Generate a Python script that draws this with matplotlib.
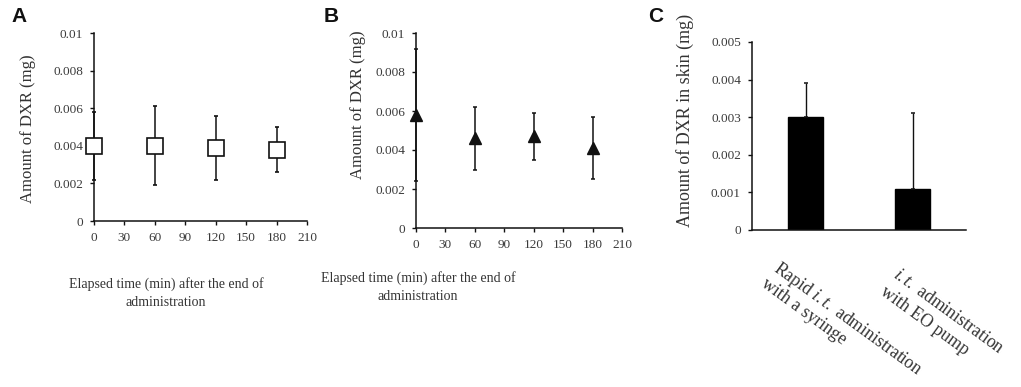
import matplotlib
matplotlib.use("Agg")
import matplotlib.pyplot as plt
import matplotlib.transforms as mtransforms
import numpy as np

W, H = 1021, 387

plt.rcParams['font.family'] = ['Liberation Serif', 'DejaVu Serif']
plt.rcParams['mathtext.fontset'] = 'custom'
plt.rcParams['mathtext.rm'] = 'Liberation Serif'
plt.rcParams['mathtext.it'] = 'Liberation Serif:italic'

# panel A: rapid i.t. administration (open squares)
time_a = [0, 60, 120, 180]
mean_a = [0.0040, 0.0040, 0.0039, 0.0038]
sd_a = [0.0018, 0.0021, 0.0017, 0.0012]

# panel B: EO pump (filled triangles)
time_b = [0, 60, 120, 180]
mean_b = [0.0058, 0.0046, 0.0047, 0.0041]
sd_b = [0.0034, 0.0016, 0.0012, 0.0016]

# panel C: skin
groups_c = [["Rapid $\\mathit{i.t.}$ administration", "with a syringe"],
            ["$\\mathit{i.t.}$ administration", "with EO pump"]]
mean_c = [0.0030, 0.0011]
sd_c = [0.0009, 0.0020]

xticks_t = [0, 30, 60, 90, 120, 150, 180, 210]
yticks_ab = [0, 0.002, 0.004, 0.006, 0.008, 0.01]
ylabels_ab = ["0", "0.002", "0.004", "0.006", "0.008", "0.01"]
yticks_c = [0, 0.001, 0.002, 0.003, 0.004, 0.005]
ylabels_c = ["0", "0.001", "0.002", "0.003", "0.004", "0.005"]

TXT = '#333333'


def px_axes(fig, left, top, right, bottom):
    return fig.add_axes([left / W, 1 - bottom / H, (right - left) / W, (bottom - top) / H])


def style(ax):
    for s in ['top', 'right']:
        ax.spines[s].set_visible(False)
    for s in ['left', 'bottom']:
        ax.spines[s].set_linewidth(1.1)
        ax.spines[s].set_color('#111111')
    ax.tick_params(direction='out', length=3, width=1.0, color='#111111',
                   labelsize=9.5, labelcolor='#3a3a3a', pad=5)


fig = plt.figure(figsize=(W / 100, H / 100), dpi=100)

# ---- A
ax_a = px_axes(fig, 94, 33, 307, 221)
style(ax_a)
ax_a.errorbar(time_a, mean_a, yerr=sd_a, fmt='s', ms=11, mfc='white', mec='#111111',
              mew=1.2, ecolor='#111111', elinewidth=1.1, capsize=1.6, capthick=1.1,
              clip_on=False, zorder=3)
ax_a.set_xlim(0, 210)
ax_a.set_ylim(0, 0.01)
ax_a.set_xticks(xticks_t)
ax_a.set_yticks(yticks_ab)
ax_a.set_yticklabels(ylabels_ab)
fig.text(28 / W, 1 - 129 / H, "Amount of DXR (mg)", rotation=90, ha='center', va='center',
         fontsize=12, color=TXT)
fig.text(166 / W, 1 - 293 / H, "Elapsed time (min) after the end of\nadministration",
         ha='center', va='center', fontsize=10, color=TXT, linespacing=1.55)

# ---- B
ax_b = px_axes(fig, 416, 33, 622, 228)
style(ax_b)
ax_b.errorbar(time_b, mean_b, yerr=sd_b, fmt='^', ms=9, mfc='#111111', mec='#111111',
              ecolor='#111111', elinewidth=1.1, capsize=1.6, capthick=1.1,
              clip_on=False, zorder=3)
ax_b.set_xlim(0, 210)
ax_b.set_ylim(0, 0.01)
ax_b.set_xticks(xticks_t)
ax_b.set_yticks(yticks_ab)
ax_b.set_yticklabels(ylabels_ab)
fig.text(358 / W, 1 - 105 / H, "Amount of DXR (mg)", rotation=90, ha='center', va='center',
         fontsize=12, color=TXT)
fig.text(418 / W, 1 - 287 / H, "Elapsed time (min) after the end of\nadministration",
         ha='center', va='center', fontsize=10, color=TXT, linespacing=1.45)

# ---- C
ax_c = px_axes(fig, 752, 42, 966, 230)
style(ax_c)
xc = np.arange(len(mean_c))
ax_c.bar(xc, mean_c, width=0.32, color='black', edgecolor='black',
         yerr=[[0] * len(sd_c), sd_c],
         error_kw=dict(ecolor='#111111', elinewidth=1.0, capsize=1.3, capthick=1.1))
ax_c.set_xlim(-0.5, 1.5)
ax_c.set_ylim(0, 0.005)
ax_c.set_yticks(yticks_c)
ax_c.set_yticklabels(ylabels_c)
ax_c.set_xticks([])

# rotated two-line category labels, one text per line
rot = -36
fs_c = 12.8
step = fs_c * 1.2
label_pos = [(-0.23, 258), (0.88, 266)]
for lines, (xp, ypix) in zip(groups_c, label_pos):
    yax = 1 - (ypix - 42) / 188
    for i, line in enumerate(lines):
        dx = -step * i * np.sin(np.radians(-rot))
        dy = -step * i * np.cos(np.radians(-rot))
        tr = mtransforms.offset_copy(ax_c.get_xaxis_transform(), fig=fig,
                                     x=dx, y=dy, units='points')
        ax_c.text(xp, yax, line, transform=tr, rotation=rot, rotation_mode='anchor',
                  ha='left', va='top', fontsize=fs_c, color=TXT)
fig.text(685 / W, 1 - 120 / H, "Amount of DXR in skin (mg)", rotation=90, ha='center',
         va='center', fontsize=13, color=TXT)

# panel letters
for letter, xp in zip("ABC", [11, 324, 648]):
    fig.text(xp / W, 1 - 16 / H, letter, ha='left', va='center', fontsize=15,
             fontweight='bold', family='Liberation Sans', color='#111111')

fig.savefig("out.png", dpi=100)
